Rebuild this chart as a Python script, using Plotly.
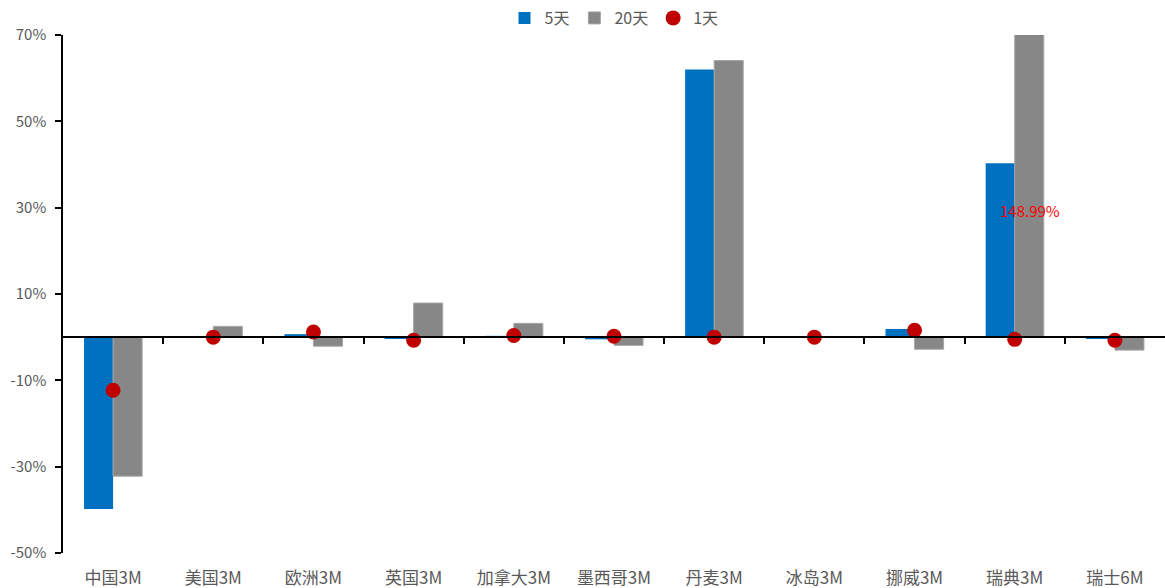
import plotly.graph_objects as go

categories = ["中国3M", "美国3M", "欧洲3M", "英国3M", "加拿大3M", "墨西哥3M",
              "丹麦3M", "冰岛3M", "挪威3M", "瑞典3M", "瑞士6M"]
chg_5d = [-39.8, -0.1, 0.7, -0.4, 0.3, -0.5, 62.0, 0.0, 1.9, 40.3, -0.3]
chg_20d = [-32.2, 2.5, -2.1, 7.9, 3.2, -1.9, 64.1, 0.0, -2.8, 148.99, -3.0]
chg_1d = [-12.3, 0.0, 1.2, -0.7, 0.4, 0.2, 0.0, 0.0, 1.6, -0.5, -0.7]
y_ticks = [-50, -30, -10, 10, 30, 50, 70]

FONT = "Noto Sans CJK SC"
TXT = "#595959"
n = len(categories)

fig = go.Figure()
fig.add_trace(go.Bar(x=categories, y=chg_5d, name="5天",
                     marker=dict(color="#0070C0", line=dict(width=0))))
fig.add_trace(go.Bar(x=categories, y=chg_20d, name="20天",
                     marker=dict(color="#878787", line=dict(color="#A6A6A6", width=1))))
fig.add_trace(go.Scatter(x=categories, y=chg_1d, name="1天", mode="markers",
                         marker=dict(color="#C00000", size=15)))

# invisible trace on the secondary x axis so the zero-line axis with ticks is drawn
fig.add_trace(go.Scatter(x=[0], y=[0], xaxis="x2", mode="markers",
                         marker=dict(opacity=0), showlegend=False, hoverinfo="skip"))

# label for the 20-day Sweden bar, which runs past the top of the axis
sweden = categories.index("瑞典3M")
fig.add_annotation(x=categories[sweden], y=29.3, text=f"{chg_20d[sweden]:.2f}%",
                   showarrow=False, xshift=15,
                   font=dict(color="#FF0000", size=15, family=FONT))

fig.update_layout(
    width=1165, height=588,
    margin=dict(l=63, r=0, t=35, b=35),
    paper_bgcolor="white", plot_bgcolor="white",
    barmode="group", bargap=0.42, bargroupgap=0,
    font=dict(family=FONT, color=TXT, size=15),
    legend=dict(orientation="h", x=0.5, xanchor="center", y=1.0, yanchor="bottom",
                font=dict(size=16, color=TXT), itemwidth=30, tracegroupgap=0,
                bgcolor="rgba(0,0,0,0)"),
    xaxis=dict(range=[-0.5, n - 0.5], showline=False, ticks="", showgrid=False,
               zeroline=False, ticklabelstandoff=13, automargin=False,
               tickfont=dict(size=17, color=TXT, family=FONT)),
    xaxis2=dict(overlaying="x", anchor="free", position=50 / 120, side="bottom",
                range=[-0.5, n - 0.5], showline=True, linecolor="black",
                linewidth=1.5, ticks="outside", ticklen=6, tickwidth=1.5, tickcolor="black",
                tickvals=[i + 0.5 for i in range(n - 1)], automargin=False,
                showticklabels=False, showgrid=False, zeroline=False),
    yaxis=dict(range=[-50, 70], tickvals=y_ticks, ticktext=[f"{v}%" for v in y_ticks],
               showline=True, linecolor="black", linewidth=1.5, automargin=False,
               ticks="outside", ticklen=6, tickwidth=1.5, tickcolor="black",
               showgrid=False, zeroline=False, ticklabelstandoff=6,
               tickfont=dict(size=15, color=TXT, family=FONT)),
)

fig.write_html("out.html")
